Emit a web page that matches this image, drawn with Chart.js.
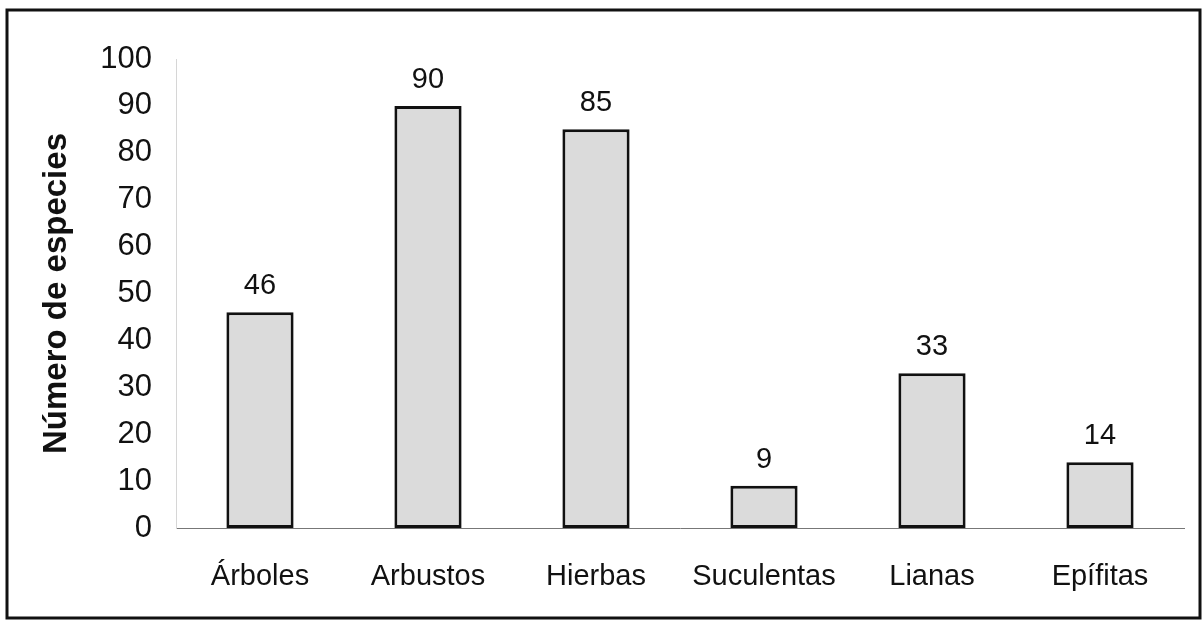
<!DOCTYPE html>
<html>
<head>
<meta charset="utf-8">
<script src="https://cdn.jsdelivr.net/npm/chart.js@4/dist/chart.umd.min.js"></script>
<style>
  html, body { margin: 0; padding: 0; background: #fff; }
  #wrap { width: 1204px; height: 621px; position: relative; }
</style>
</head>
<body>
<div id="wrap"><canvas id="speciesChart" width="1204" height="621"></canvas></div>
<script>
// data
const categories = ["Árboles", "Arbustos", "Hierbas", "Suculentas", "Lianas", "Epífitas"];
const speciesCount = [46, 90, 85, 9, 33, 14];
const yTicks = [0, 10, 20, 30, 40, 50, 60, 70, 80, 90, 100];

const FONT = "'Liberation Sans', Arial, Helvetica, sans-serif";

// frame round the whole figure
const framePlugin = {
  id: "frame",
  afterDraw(chart) {
    const ctx = chart.ctx;
    ctx.save();
    ctx.strokeStyle = "#111";
    ctx.lineWidth = 3;
    ctx.strokeRect(7, 10, 1193, 608);
    ctx.restore();
  },
};

// value above each bar
const valueLabels = {
  id: "valueLabels",
  afterDatasetsDraw(chart) {
    const ctx = chart.ctx;
    const meta = chart.getDatasetMeta(0);
    ctx.save();
    ctx.font = "29px " + FONT;
    ctx.fillStyle = "#111";
    ctx.textAlign = "center";
    ctx.textBaseline = "alphabetic";
    meta.data.forEach((bar, i) => {
      ctx.fillText(String(speciesCount[i]), bar.x, bar.y - 18);
    });
    ctx.restore();
  },
};

const ctx = document.getElementById("speciesChart").getContext("2d");
new Chart(ctx, {
  type: "bar",
  data: {
    labels: categories,
    datasets: [
      {
        data: speciesCount,
        backgroundColor: "#dbdbdb",
        borderColor: "#111",
        borderWidth: 3,
        borderSkipped: false,
        barPercentage: 0.4,
        categoryPercentage: 1,
      },
    ],
  },
  options: {
    responsive: false,
    animation: false,
    layout: { padding: { top: 59, right: 20, bottom: 0, left: 0 } },
    plugins: {
      legend: { display: false },
      tooltip: { enabled: false },
    },
    scales: {
      x: {
        afterFit(scale) {
          scale.height = 93;
        },
        grid: { display: false, drawTicks: false },
        border: { display: true, color: "#777", width: 1 },
        ticks: {
          padding: 32,
          color: "#111",
          font: { family: FONT, size: 29 },
          maxRotation: 0,
        },
      },
      y: {
        min: 0,
        max: 100,
        afterFit(scale) {
          scale.width = 176;
        },
        afterBuildTicks(scale) {
          scale.ticks = yTicks.map((v) => ({ value: v }));
        },
        grid: { display: false, drawTicks: false },
        border: { display: true, color: "#d6d6d6", width: 1 },
        ticks: {
          padding: 24,
          color: "#111",
          font: { family: FONT, size: 31 },
        },
        title: {
          display: true,
          text: "Número de especies",
          color: "#111",
          font: { family: FONT, size: 33, weight: "bold" },
          padding: { top: 37, bottom: 0 },
        },
      },
    },
  },
  plugins: [framePlugin, valueLabels],
});
</script>
</body>
</html>
